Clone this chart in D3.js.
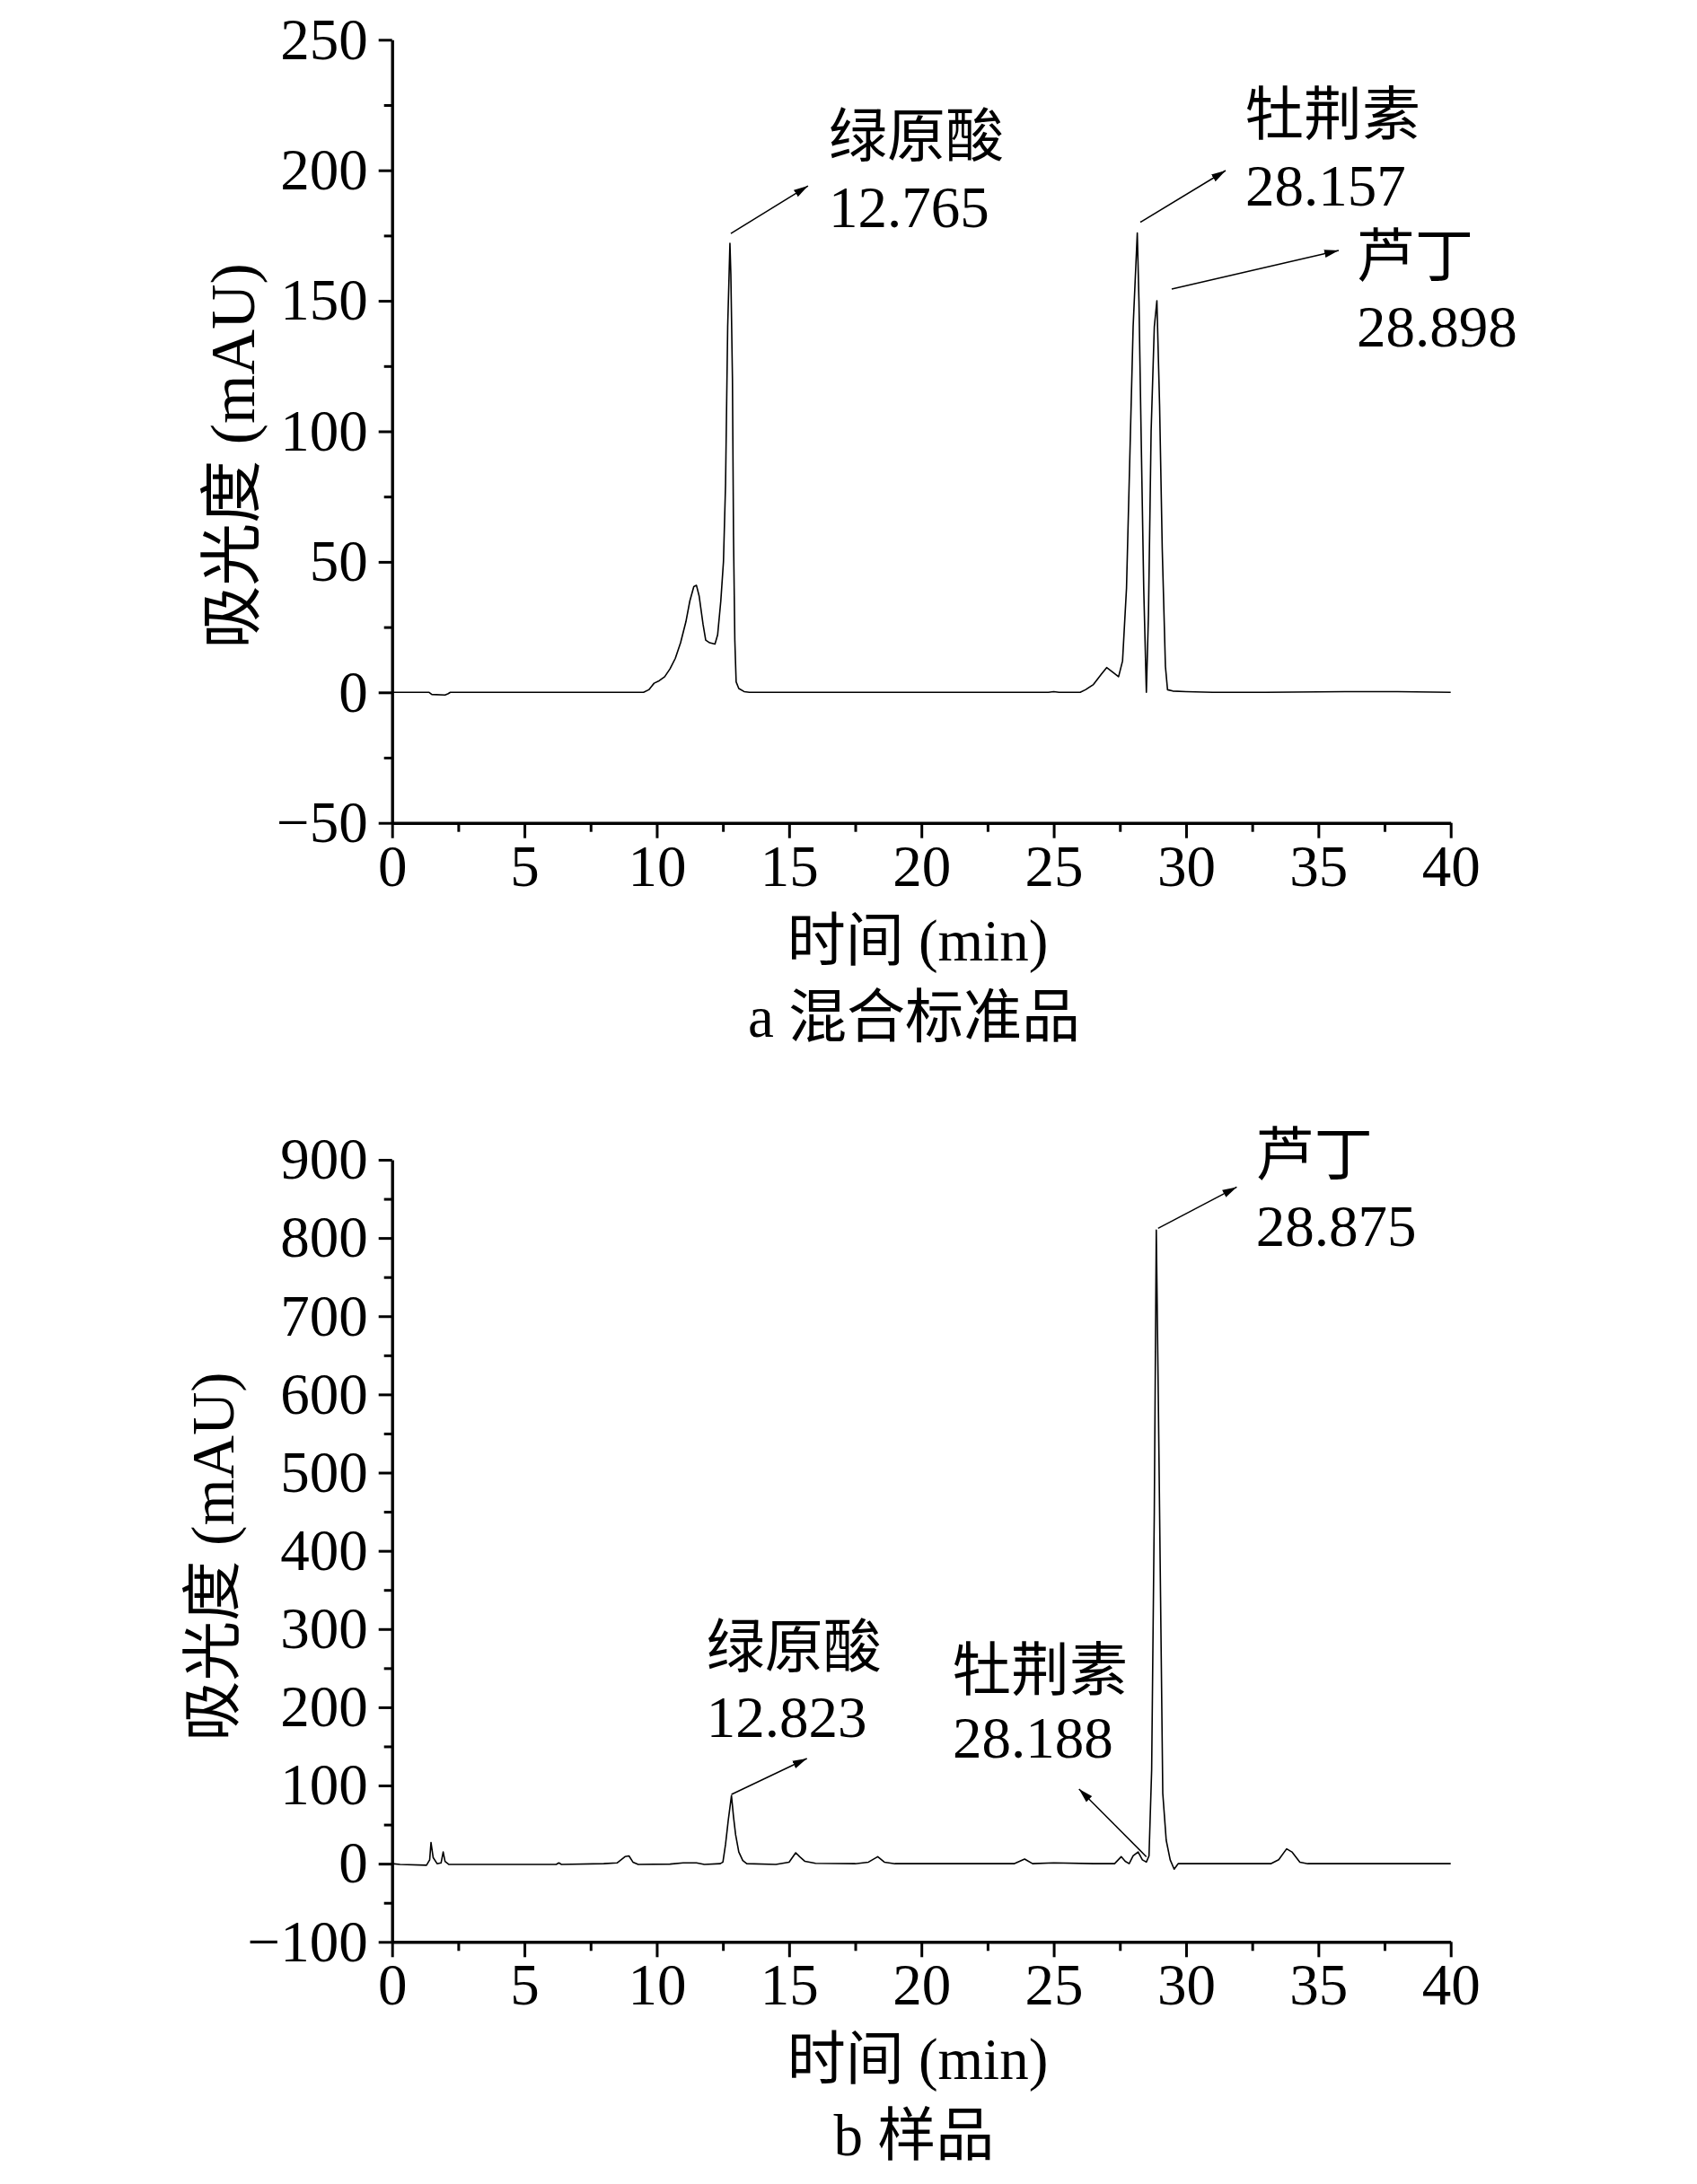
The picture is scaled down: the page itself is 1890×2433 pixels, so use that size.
<!DOCTYPE html>
<html>
<head>
<meta charset="utf-8">
<script src="https://cdn.jsdelivr.net/npm/d3@7"></script>
<style>
  body { margin: 0; background: #fff; }
  svg { display: block; }
  text { font-family: "Liberation Serif", "Noto Sans CJK SC", serif; fill: #000; }
</style>
</head>
<body>
<div id="chart"></div>
<script>
const WIDTH = 1890;
const HEIGHT = 2433;

// chromatogram a: mixed standards (time min, absorbance mAU)
const traceA = [
  [0,0],[1.4,0],[1.5,-0.8],[2.0,-1],[2.12,-0.5],[2.2,0],[9.5,0],[9.7,1],[9.9,3.5],[10.1,4.5],
  [10.3,6],[10.5,9],[10.7,13],[10.9,19],[11.1,27],[11.25,35],[11.4,40.5],[11.5,41],[11.6,37],
  [11.75,26],[11.85,20],[12.0,19],[12.2,18.5],[12.3,22],[12.42,35],[12.52,50],[12.6,80],
  [12.68,140],[12.765,172],[12.8,160],[12.86,120],[12.9,60],[12.95,20],[13.0,4],[13.1,1.5],
  [13.3,0.3],[13.5,0],[24.8,0],[25.0,0.3],[25.2,0],[26.0,0],[26.2,1],[26.5,3],[26.8,7],
  [27.0,9.5],[27.2,8],[27.45,6],[27.6,12],[27.75,40],[27.9,100],[28.0,140],[28.157,176],
  [28.22,150],[28.3,100],[28.4,40],[28.5,0],[28.58,30],[28.68,100],[28.8,140],[28.898,150],
  [29.0,110],[29.1,55],[29.22,10],[29.3,1],[29.5,0.5],[30.0,0.3],[31,0],[33,0],[36,0.3],
  [38,0.3],[40,0]
];

// chromatogram b: sample
const traceB = [
  [0,0],[0.3,-1],[1.3,-2],[1.42,5],[1.47,27],[1.55,8],[1.7,0],[1.85,1],[1.93,15],[2.0,3],
  [2.15,-1],[2.5,-1],[6.2,-1],[6.3,1],[6.4,-1],[8.0,0],[8.5,1],[8.8,9],[8.95,10],[9.1,2],
  [9.3,-1],[10.5,-0.5],[11,1],[11.5,1],[11.8,-1],[12.4,0],[12.5,2],[12.6,25],[12.7,55],
  [12.823,87],[12.9,60],[12.98,37],[13.1,15],[13.25,4],[13.4,0],[14.5,-1],[15.0,2],
  [15.25,14],[15.4,9],[15.6,3],[16,0.5],[17.5,0],[18.0,2],[18.35,9],[18.6,2],[19,0],
  [23.5,0],[23.9,6],[24.2,0],[25,1],[26.5,0],[27.3,0],[27.55,9],[27.7,3],[27.85,0],
  [28.0,10],[28.188,15],[28.35,5],[28.5,2],[28.6,10],[28.7,120],[28.8,450],[28.875,810],
  [28.95,600],[29.05,300],[29.12,90],[29.25,30],[29.4,5],[29.55,-7],[29.7,0],[30.5,0],
  [33.2,0],[33.5,5],[33.8,19],[34.0,15],[34.3,2],[34.6,0],[40,0]
];

// axes
const xTicks = [0, 5, 10, 15, 20, 25, 30, 35, 40];
const yTicksA = [-50, 0, 50, 100, 150, 200, 250];
const yTicksB = [-100, 0, 100, 200, 300, 400, 500, 600, 700, 800, 900];

// peak labels: name, retention time, point the arrow leaves from
const peaksA = [
  { name: "绿原酸", rt: "12.765", t: 12.765, v: 172 },
  { name: "牡荆素", rt: "28.157", t: 28.157, v: 176 },
  { name: "芦丁",   rt: "28.898", t: 28.898, v: 150 }
];
const peaksB = [
  { name: "绿原酸", rt: "12.823", t: 12.823, v: 87 },
  { name: "牡荆素", rt: "28.188", t: 28.5, v: 2 },
  { name: "芦丁",   rt: "28.875", t: 28.875, v: 810 }
];

// layout of annotations (pixel offsets; label y = text centre)
const annoLayoutA = [
  { sx: 1, sy: -11, ex: 86, ey: -53, lx: 109, ly1: -110, ly2: -29 },
  { sx: 3.4, sy: -12, ex: 95, ey: -57.5, lx: 117, ly1: -121.5, ly2: -40.5 },
  { sx: 16.5, sy: -13, ex: 186, ey: -43, lx: 206, ly1: -38, ly2: 42 }
];
const annoLayoutB = [
  { sx: 0, sy: -1.4, ex: 84, ey: -40, lx: -28, ly1: -166, ly2: -86 },
  { sx: 0, sy: -6, ex: -75, ey: -75.5, lx: -215.7, ly1: -209.5, ly2: -132.5 },
  { sx: 2, sy: -2, ex: 87.6, ey: -46, lx: 109, ly1: -83, ly2: -2 }
];

const svg = d3.select('#chart').append('svg')
  .attr('width', WIDTH)
  .attr('height', HEIGHT);
svg.append('rect').attr('width', WIDTH).attr('height', HEIGHT).attr('fill', '#fff');

svg.append('defs').append('marker')
  .attr('id', 'arrow')
  .attr('markerUnits', 'userSpaceOnUse')
  .attr('markerWidth', 20)
  .attr('markerHeight', 20)
  .attr('viewBox', '0 0 20 20')
  .attr('refX', 16)
  .attr('refY', 10)
  .attr('orient', 'auto')
  .append('path')
  .attr('d', 'M0,5.5 L16,10 L0,14.5 z')
  .attr('fill', '#000');

function drawChart(cfg) {
  const x = d3.scaleLinear().domain([0, 40]).range([436.7, 1615.7]);
  const y = d3.scaleLinear().domain(cfg.yDomain).range([cfg.yBottom, cfg.yTop]);
  const g = svg.append('g');

  // minor ticks
  const xMinor = d3.range(2.5, 40, 5);
  const yMinor = d3.range(cfg.yDomain[0] + cfg.minor, cfg.yDomain[1], cfg.minor * 2);

  g.append('g')
    .attr('transform', 'translate(0,' + cfg.yBottom + ')')
    .call(d3.axisBottom(x).tickValues(xMinor).tickSize(10).tickSizeOuter(0).tickFormat(''))
    .call(a => a.select('.domain').remove())
    .call(a => a.selectAll('line').attr('stroke-width', 3));
  g.append('g')
    .attr('transform', 'translate(436.7,0)')
    .call(d3.axisLeft(y).tickValues(yMinor).tickSize(9).tickSizeOuter(0).tickFormat(''))
    .call(a => a.select('.domain').remove())
    .call(a => a.selectAll('line').attr('stroke-width', 3));

  // major axes
  const xAxis = g.append('g')
    .attr('transform', 'translate(0,' + cfg.yBottom + ')')
    .call(d3.axisBottom(x).tickValues(xTicks).tickSize(17).tickSizeOuter(0).tickPadding(7));
  const yAxis = g.append('g')
    .attr('transform', 'translate(436.7,0)')
    .call(d3.axisLeft(y).tickValues(cfg.yTicks).tickSize(15).tickSizeOuter(0).tickPadding(12)
      .tickFormat(d => d < 0 ? '\u2212' + Math.abs(d) : d));
  [xAxis, yAxis].forEach(a => {
    a.attr('font-family', null).attr('font-size', null);
    a.select('.domain').attr('stroke-width', 3.4);
    a.selectAll('line').attr('stroke-width', 3);
    a.selectAll('text').style('font-size', '65px');
  });

  // trace
  const line = d3.line().x(d => x(d[0])).y(d => y(d[1]));
  g.append('path')
    .datum(cfg.trace)
    .attr('d', line)
    .attr('fill', 'none')
    .attr('stroke', '#000')
    .attr('stroke-width', 1.6)
    .attr('stroke-linejoin', 'round');

  // annotations
  cfg.peaks.forEach((p, i) => {
    const L = cfg.layout[i];
    const px = x(p.t), py = y(p.v);
    const sx = px + L.sx, sy = py + L.sy;
    g.append('line')
      .attr('x1', sx).attr('y1', sy)
      .attr('x2', sx + L.ex).attr('y2', sy + L.ey)
      .attr('stroke', '#000')
      .attr('stroke-width', 1.5)
      .attr('marker-end', 'url(#arrow)');
    g.append('text')
      .attr('x', sx + L.lx).attr('y', sy + L.ly1 + 24)
      .style('font-size', '65px')
      .text(p.name);
    g.append('text')
      .attr('x', sx + L.lx).attr('y', sy + L.ly2 + 22)
      .style('font-size', '65px')
      .text(p.rt);
  });

  // axis titles
  g.append('text')
    .attr('x', 1022).attr('y', cfg.yBottom + 130 + 23)
    .attr('text-anchor', 'middle')
    .style('font-size', '65px')
    .text('时间 (min)');
  g.append('text')
    .attr('x', 1018).attr('y', cfg.yBottom + 215 + 23)
    .attr('text-anchor', 'middle')
    .style('font-size', '65px')
    .text(cfg.caption);
  g.append('text')
    .attr('transform', 'translate(' + cfg.titleX + ',' + cfg.titleY + ') rotate(-90)')
    .attr('text-anchor', 'middle')
    .style('font-size', cfg.titleSize + 'px')
    .text('吸光度 (mAU)');
}

drawChart({
  trace: traceA, yDomain: [-50, 250], yTicks: yTicksA, minor: 25,
  yTop: 44.3, yBottom: 916.7, peaks: peaksA, layout: annoLayoutA,
  caption: 'a 混合标准品', titleX: 283, titleY: 508, titleSize: 70
});
drawChart({
  trace: traceB, yDomain: [-100, 900], yTicks: yTicksB, minor: 50,
  yTop: 1292, yBottom: 2163.3, peaks: peaksB, layout: annoLayoutB,
  caption: 'b 样品', titleX: 260, titleY: 1734, titleSize: 67
});
</script>
</body>
</html>
